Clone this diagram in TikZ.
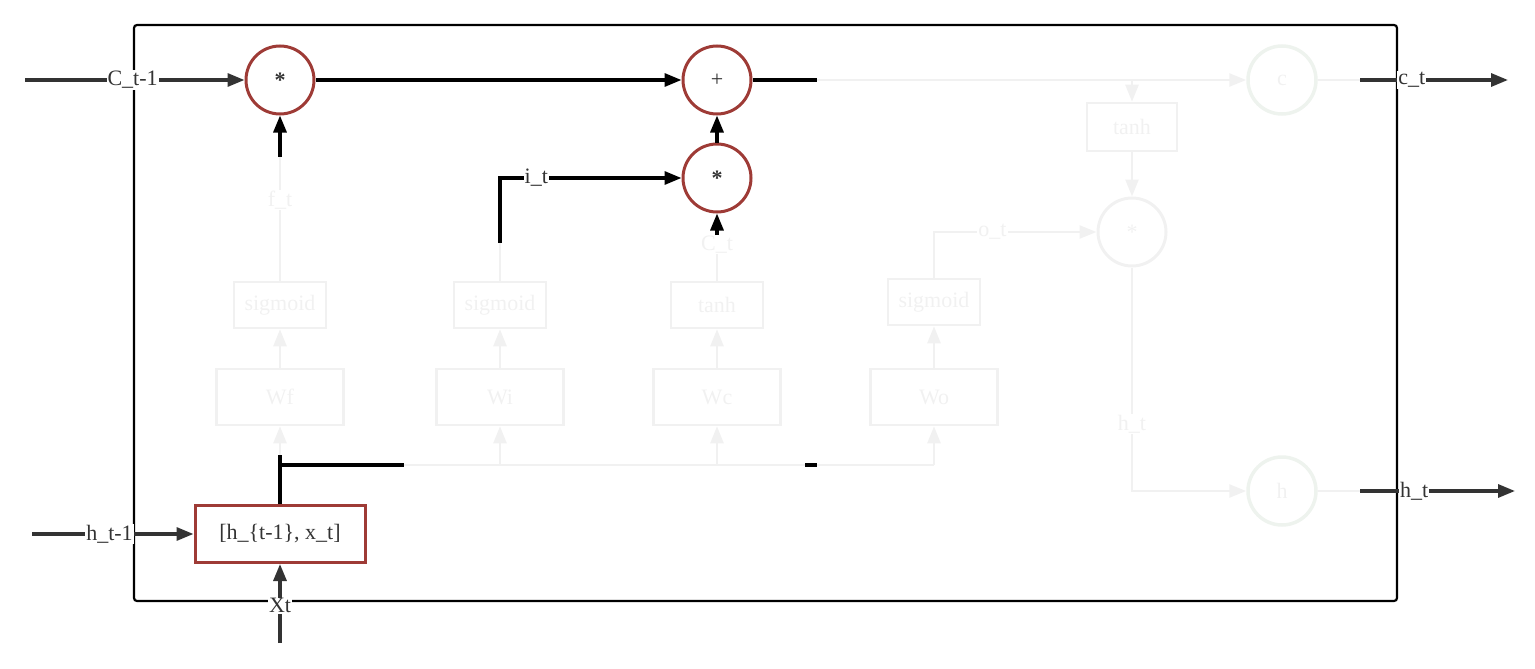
\documentclass[tikz,border=0pt]{standalone}
\usepackage{fontspec}
\setmainfont{Liberation Serif}
\usetikzlibrary{arrows.meta}
\definecolor{redb}{HTML}{9E3B36}
\definecolor{dk}{HTML}{333333}
\definecolor{fd}{HTML}{F1F1F1}
\definecolor{fdg}{HTML}{EEF3EE}
\begin{document}
\begin{tikzpicture}[x=1pt,y=-1pt,
  every node/.style={font=\fontsize{22}{24}\selectfont},
  circ/.style={circle,draw=redb,line width=3pt,minimum size=68pt,inner sep=0pt,text=dk},
  fcirc/.style={circle,draw=fd,line width=3pt,minimum size=68pt,inner sep=0pt,text=fd},
  gcirc/.style={circle,draw=fdg,line width=3.5pt,minimum size=68pt,inner sep=0pt,text=fd},
  fbox/.style={draw=fd,line width=2.5pt,text=fd,inner sep=0pt},
  tip/.style={-{Triangle[length=17pt,width=13pt]}},
  blk/.style={black,line width=3.2pt},
  dkl/.style={dk,line width=3.2pt},
  fdl/.style={fd,line width=2.5pt},
  lab/.style={fill=white,inner sep=1pt,text=dk},
  flab/.style={fill=white,inner sep=1pt,text=fd}]
\useasboundingbox (0,0) rectangle (1535,669);
% outer box
\draw[line width=2.2pt,rounded corners=3pt] (134,25) rectangle (1397,601);
% faded boxes
\node[fbox,minimum width=127pt,minimum height=56pt] (wf) at (280,397) {Wf};
\node[fbox,minimum width=127pt,minimum height=56pt] (wi) at (500,397) {Wi};
\node[fbox,minimum width=127pt,minimum height=56pt] (wc) at (717,397) {Wc};
\node[fbox,minimum width=127pt,minimum height=56pt] (wo) at (934,397) {Wo};
\node[fbox,minimum width=92pt,minimum height=46pt] (sf) at (280,305) {sigmoid};
\node[fbox,minimum width=92pt,minimum height=46pt] (si) at (500,305) {sigmoid};
\node[fbox,minimum width=92pt,minimum height=46pt] (tc) at (717,305) {tanh};
\node[fbox,minimum width=92pt,minimum height=46pt] (so) at (934,302) {sigmoid};
\node[fbox,minimum width=90pt,minimum height=48pt] (th) at (1132,127) {tanh};
\node[fcirc] (m3) at (1132,232) {*};
\node[gcirc] (cc) at (1282,80) {c};
\node[gcirc] (hh) at (1282,491) {h};
% main nodes
\node[circ] (m1) at (280,80) {\textbf{*}};
\node[circ] (pl) at (717,80) {+};
\node[circ] (m2) at (717,178) {\textbf{*}};
\node[draw=redb,line width=3pt,minimum width=170pt,minimum height=57pt,inner sep=0pt,text=dk] (cat) at (280,534) {[h\_\{t-1\}, x\_t]};
% coordinates
\coordinate (cin) at (25,80);
\coordinate (hin) at (32,534);
\coordinate (xin) at (280,643);
\coordinate (cout) at (1508,80);
\coordinate (hout) at (1515,491);
\coordinate (cdk) at (1360,80);
\coordinate (hdk) at (1360,491);
\coordinate (pe) at (817,80);
\coordinate (br) at (1132,80);
\coordinate (ft) at (280,157);
\coordinate (ct) at (717,235);
\coordinate (it) at (500,243);
\coordinate (jt) at (280,455);
\coordinate (bus) at (280,465);
\coordinate (bk) at (404,465);
\coordinate (bend) at (934,465);
% faded connectors
\draw[fdl,tip] (pe) -- (cc.west);
\draw[fdl,tip] (br) -- (th.north);
\draw[fdl,tip] (th.south) -- (m3.north);
\draw[fdl] (cc.east) -- (cdk);
\draw[fdl] (hh.east) -- (hdk);
\draw[fdl,tip] (so.north) |- (m3.west) node[flab,pos=0.68] {o\_t};
\draw[fdl,tip] (m3.south) |- (hh.west) node[flab,pos=0.35] {h\_t};
\draw[fdl] (sf.north) -- (ft) node[flab,pos=0.65] {f\_t};
\draw[fdl] (si.north) -- (it);
\draw[fdl] (tc.north) -- (ct) node[flab,pos=0.8] {C\_t};
\draw[fdl] (bk) -- (bend);
\draw[fdl,tip] (jt) -- (wf.south);
\draw[fdl,tip] (500,465) -- (wi.south);
\draw[fdl,tip] (717,465) -- (wc.south);
\draw[fdl,tip] (bend) -- (wo.south);
\draw[fdl,tip] (wf.north) -- (sf.south);
\draw[fdl,tip] (wi.north) -- (si.south);
\draw[fdl,tip] (wc.north) -- (tc.south);
\draw[fdl,tip] (wo.north) -- (so.south);
% active connectors
\draw[dkl,tip] (cin) -- (m1.west) node[lab,pos=0.49] {C\_t-1};
\draw[blk,tip] (m1.east) -- (pl.west);
\draw[blk] (pl.east) -- (pe);
\draw[blk,tip] (m2.north) -- (pl.south);
\draw[blk,tip] (ft) -- (m1.south);
\draw[blk,tip] (ct) -- (m2.south);
\draw[blk,tip] (it) |- (m2.west) node[lab,pos=0.6] {i\_t};
\draw[blk] (cat.north) -- (jt);
\draw[blk] (bus) -- (bk);
\draw[blk] (805,465) -- (817,465);
\draw[dkl,tip] (cdk) -- (cout) node[lab,pos=0.35] {c\_t};
\draw[dkl,tip] (hdk) -- (hout) node[lab,pos=0.35] {h\_t};
\draw[dkl,tip] (hin) -- (cat.west) node[lab,pos=0.48] {h\_t-1};
\draw[dkl,tip] (xin) -- (cat.south) node[lab,pos=0.47] {Xt};
\end{tikzpicture}
\end{document}
